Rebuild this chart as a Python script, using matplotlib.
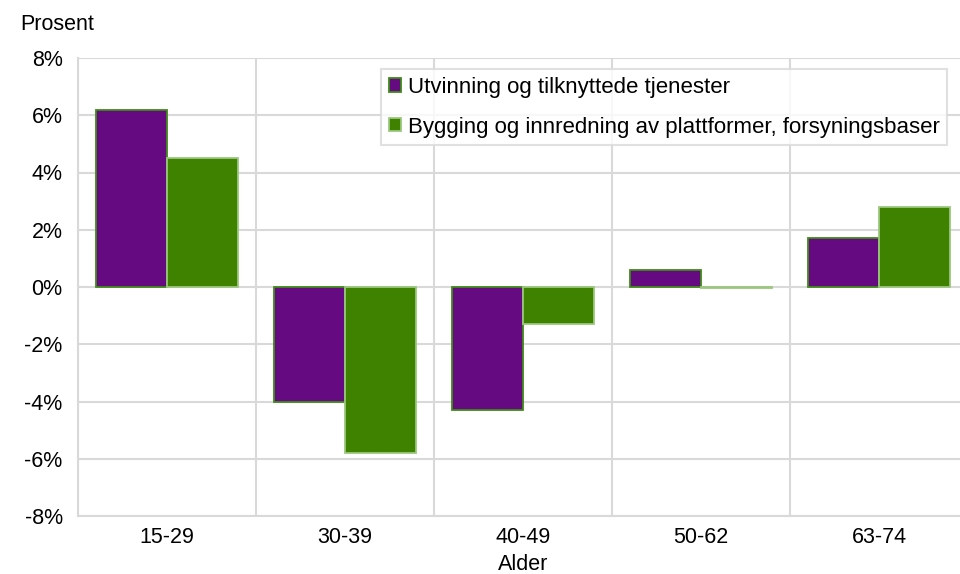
import numpy as np
import matplotlib.pyplot as plt
from matplotlib.ticker import FuncFormatter

plt.rcParams['font.family'] = ['Liberation Sans', 'DejaVu Sans']

ages = ['15-29', '30-39', '40-49', '50-62', '63-74']
utvinning = [6.2, -4.0, -4.3, 0.6, 1.7]
bygging = [4.5, -5.8, -1.3, -0.05, 2.8]
names = ['Utvinning og tilknyttede tjenester',
         'Bygging og innredning av plattformer, forsyningsbaser']

purple = '#660a82'
green = '#3f8200'
fs = 15.5

fig = plt.figure(figsize=(9.6, 5.74), dpi=100)
ax = fig.add_axes([78 / 960, 1 - 516 / 574, 890 / 960, 458 / 574])

x = np.arange(len(ages))
w = 0.4
ax.bar(x - w / 2, utvinning, w, color=purple, edgecolor='#3f8a1a', linewidth=1.3,
       label=names[0], zorder=3)
ax.bar(x + w / 2, bygging, w, color=green, edgecolor='#9cc77f', linewidth=1.3,
       label=names[1], zorder=3)

ax.set_xlim(-0.5, len(ages) - 0.5)
ax.set_ylim(-8, 8)
ax.set_yticks(np.arange(-8, 9, 2))
ax.yaxis.set_major_formatter(FuncFormatter(lambda v, p: f'{v:.0f}%'))
ax.set_xticks(x)
ax.set_xticklabels(ages)
ax.set_xticks(np.arange(-0.5, len(ages), 1), minor=True)
ax.tick_params(axis='both', which='both', length=0, labelsize=fs)
ax.tick_params(axis='x', pad=8)
ax.tick_params(axis='y', pad=11)
ax.grid(axis='y', color='#d9d9d9', linewidth=1.5, zorder=0)
ax.grid(axis='x', which='minor', color='#d9d9d9', linewidth=1.5, zorder=0)
for s in ['top', 'right']:
    ax.spines[s].set_visible(False)
for s in ['left', 'bottom']:
    ax.spines[s].set_color('#d9d9d9')
    ax.spines[s].set_linewidth(1.5)

ax.set_xlabel('Alder', fontsize=fs, labelpad=4)
fig.text(20 / 960, 1 - 25 / 574, 'Prosent', fontsize=fs, va='center', ha='left')

leg = ax.legend(loc='upper left', bbox_to_anchor=((381 - 78) / 890, (516 - 69) / 458),
                fontsize=16, frameon=True, fancybox=False, handlelength=0.55,
                handleheight=0.55, handletextpad=0.3, labelspacing=0.85,
                borderpad=0.35, borderaxespad=0)
leg.get_frame().set_edgecolor('#d9d9d9')
leg.get_frame().set_linewidth(1.5)

plt.savefig('out.png', dpi=100)
